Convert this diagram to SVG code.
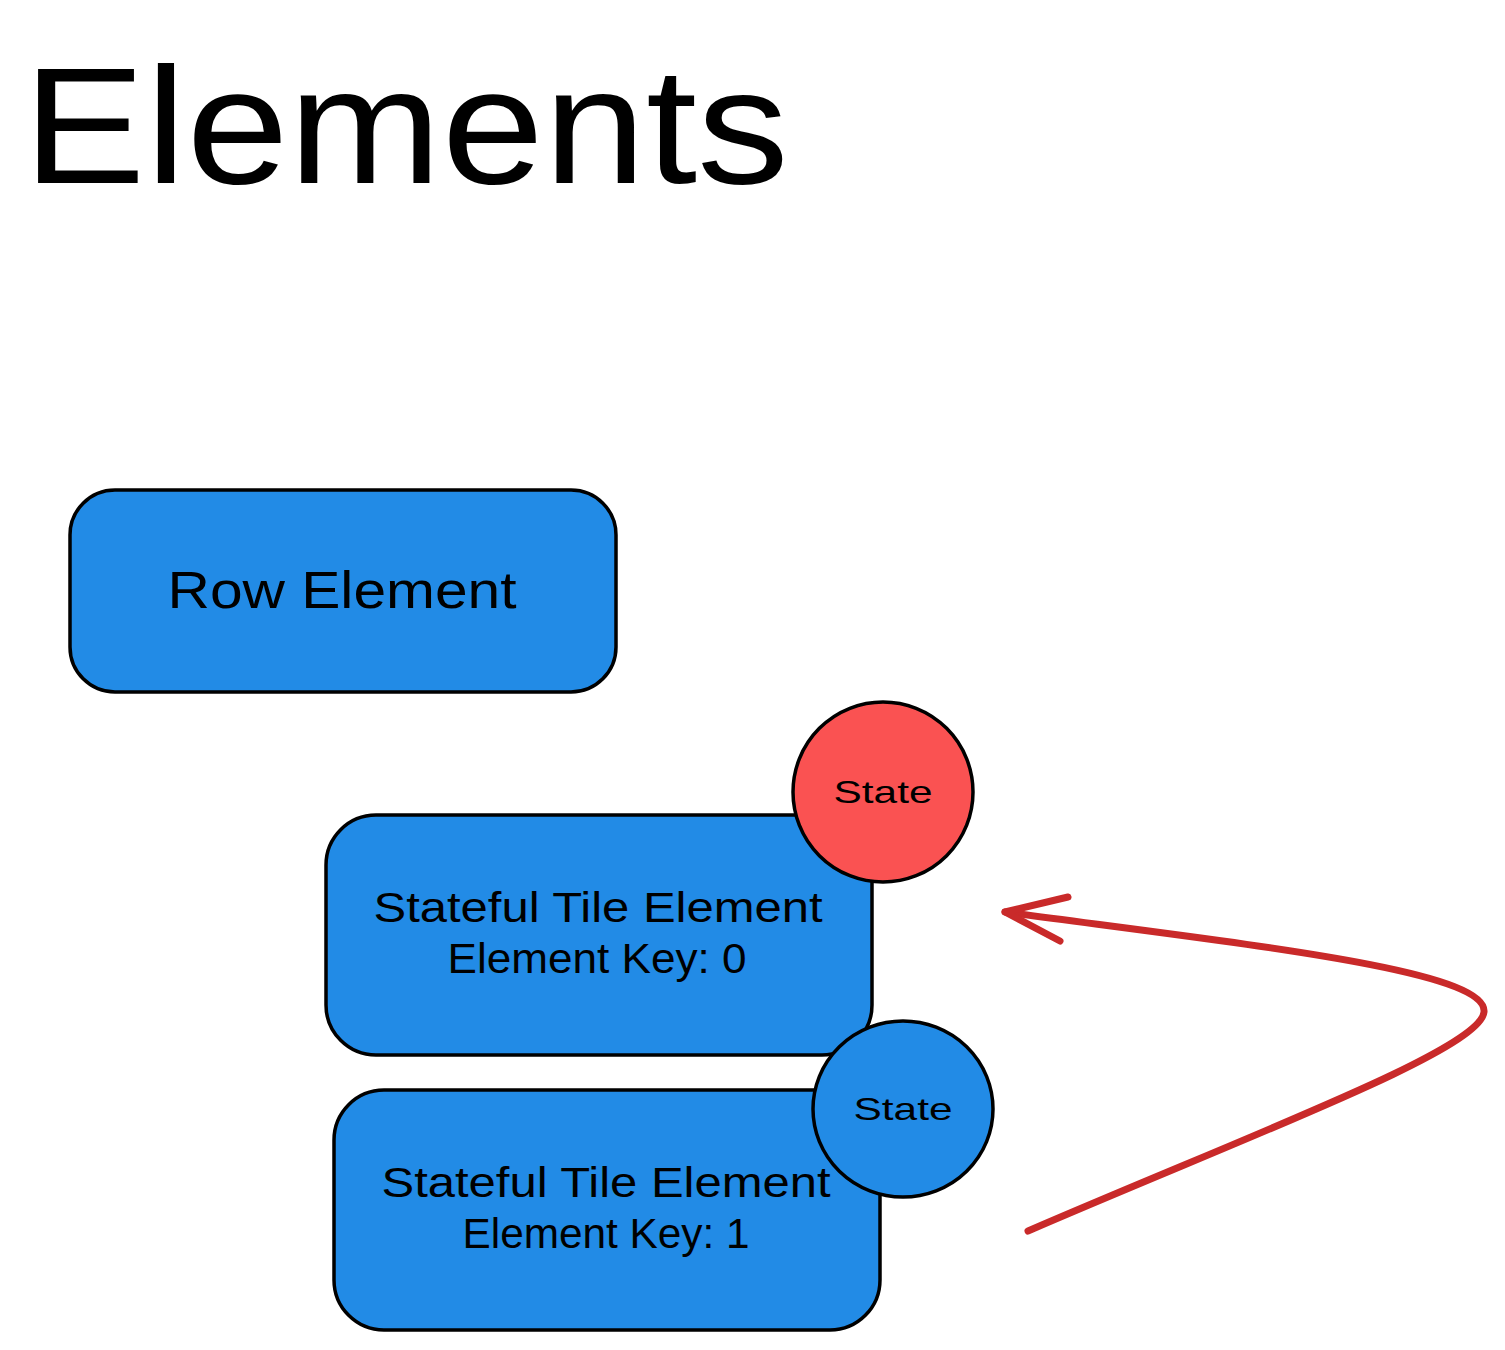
<svg xmlns="http://www.w3.org/2000/svg" width="1505" height="1350" viewBox="0 0 1505 1350">
<style>
.box{fill:#228be6;stroke:#000;stroke-width:3.5}
.red{fill:#fa5252;stroke:#000;stroke-width:3.5}
.t{font-family:"Liberation Sans","Noto Sans",sans-serif;fill:#000;text-anchor:middle}
.conn{fill:none;stroke:#c92a2a;stroke-width:7;stroke-linecap:round;stroke-linejoin:round}
</style>
<rect width="1505" height="1350" fill="#fff"/>
<g id="title"><text class="t" x="406" y="183" font-size="165" textLength="766" lengthAdjust="spacingAndGlyphs">Elements</text></g>
<g id="row-element">
<rect class="box" x="70" y="490" width="546" height="202" rx="45"/>
<text class="t" x="342" y="608" font-size="52" textLength="349" lengthAdjust="spacingAndGlyphs">Row Element</text>
</g>
<g id="tile-0">
<rect class="box" x="326" y="815" width="546" height="240" rx="50"/>
<text class="t" x="598" y="922" font-size="42" textLength="449" lengthAdjust="spacingAndGlyphs">Stateful Tile Element</text>
<text class="t" x="597" y="973" font-size="42" textLength="299" lengthAdjust="spacingAndGlyphs">Element Key: 0</text>
</g>
<g id="state-0">
<circle class="red" cx="883" cy="792" r="90"/>
<text class="t" x="883" y="803" font-size="32" textLength="99" lengthAdjust="spacingAndGlyphs">State</text>
</g>
<g id="tile-1">
<rect class="box" x="334" y="1090" width="546" height="240" rx="50"/>
<text class="t" x="606" y="1197" font-size="42" textLength="449" lengthAdjust="spacingAndGlyphs">Stateful Tile Element</text>
<text class="t" x="606" y="1248" font-size="42" textLength="287" lengthAdjust="spacingAndGlyphs">Element Key: 1</text>
</g>
<g id="state-1">
<ellipse class="box" cx="903" cy="1109" rx="90" ry="88"/>
<text class="t" x="903" y="1120" font-size="32" textLength="99" lengthAdjust="spacingAndGlyphs">State</text>
</g>
<g id="connectors">
<path class="conn" d="M1028,1231 C1250,1135 1480,1050 1484,1012 C1488,970 1250,945 1005,912"/>
<polyline class="conn" points="1068,897 1005,912 1060,941"/>
</g>
</svg>
